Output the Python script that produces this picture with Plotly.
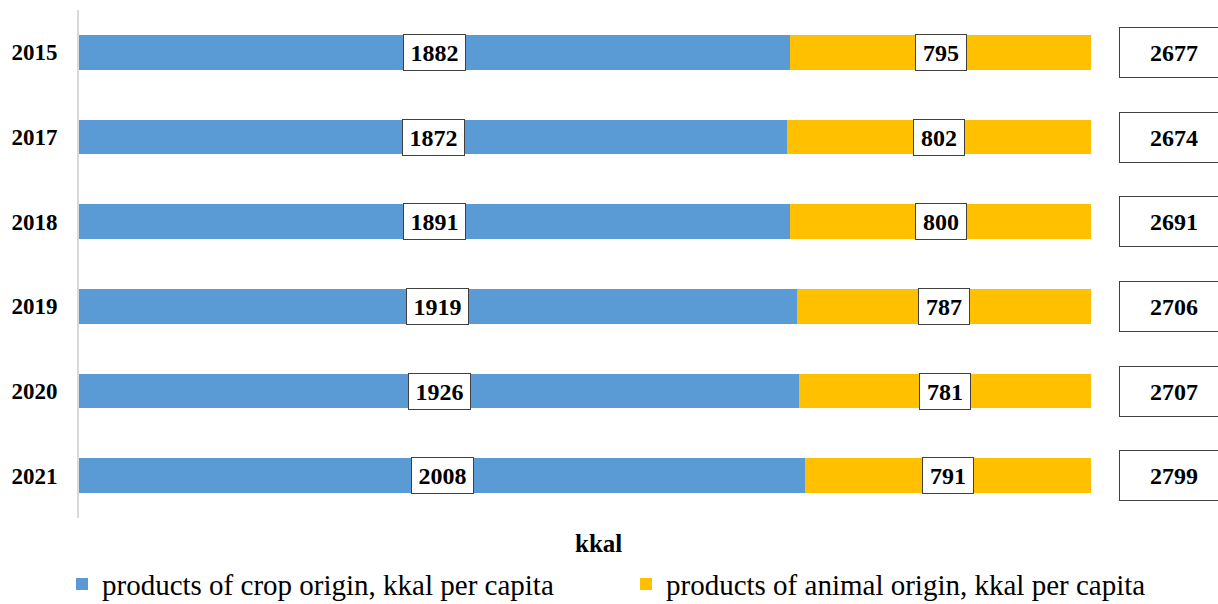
import plotly.graph_objects as go

years = ["2015", "2017", "2018", "2019", "2020", "2021"]
crop = [1882, 1872, 1891, 1919, 1926, 2008]
animal = [795, 802, 800, 787, 781, 791]
totals = [2677, 2674, 2691, 2706, 2707, 2799]

crop_name = "products of crop origin, kkal per capita"
animal_name = "products of animal origin, kkal per capita"
blue = "#5B9BD5"
orange = "#FFC000"
FONT = "Liberation Serif, Times New Roman, serif"

fig = go.Figure()
fig.add_trace(go.Bar(y=years, x=crop, orientation="h", name=crop_name, legend="legend",
                     showlegend=True, marker=dict(color=blue, line=dict(width=0))))
fig.add_trace(go.Bar(y=years, x=animal, orientation="h", name=animal_name, legend="legend2",
                     showlegend=True, marker=dict(color=orange, line=dict(width=0))))

annotations = []
for i, (c, a, t) in enumerate(zip(crop, animal, totals)):
    tot = c + a
    cp = c / tot * 100
    annotations.append(dict(x=cp / 2, y=i, xref="x", yref="y", text=f"<b>{c}</b>",
                            showarrow=False, bgcolor="white", bordercolor="#404040",
                            borderwidth=1, height=33, borderpad=1, width=59,
                            font=dict(family=FONT, size=24, color="black")))
    annotations.append(dict(x=cp + (100 - cp) / 2, y=i, xref="x", yref="y", text=f"<b>{a}</b>",
                            showarrow=False, bgcolor="white", bordercolor="#404040",
                            borderwidth=1, height=33, borderpad=1, width=48,
                            font=dict(family=FONT, size=24, color="black")))
    annotations.append(dict(x=(1174 - 79) / 1012, y=i, xref="paper", yref="y",
                            xanchor="center", text=f"<b>{t}</b>",
                            showarrow=False, bgcolor="white", bordercolor="#404040",
                            borderwidth=1, height=49, width=108, borderpad=0,
                            font=dict(family=FONT, size=24, color="black")))

annotations.append(dict(x=(598 - 79) / 1012, y=-0.02, xref="paper", yref="paper",
                        xanchor="center", text="<b>kkal</b>", showarrow=False, yanchor="top",
                        font=dict(family=FONT, size=25, color="black")))

fig.update_layout(
    width=1218, height=604, showlegend=True,
    barmode="stack", barnorm="percent", bargap=0.587,
    plot_bgcolor="white", paper_bgcolor="white",
    margin=dict(l=79, r=127, t=10, b=86, autoexpand=False),
    font=dict(family=FONT, color="black"),
    xaxis=dict(range=[0, 100], autorange=False, showgrid=False, showticklabels=False,
               zeroline=False, showline=False, automargin=False),
    yaxis=dict(type="category", categoryorder="array", categoryarray=years,
               range=[len(years) - 0.5, -0.5], autorange=False,
               automargin=False,
               showline=True, linecolor="#d9d9d9", linewidth=2,
               ticks="outside", ticklen=15, tickcolor="rgba(0,0,0,0)", showgrid=False,
               tickfont=dict(family=FONT, size=23, color="black", weight="bold")),
    legend=dict(orientation="h", x=(62 - 79) / 1012, xanchor="left", y=-0.08, yanchor="top",
                font=dict(family=FONT, size=29, color="black"), itemwidth=30,
                bgcolor="rgba(0,0,0,0)", visible=True),
    legend2=dict(orientation="h", x=(626 - 79) / 1012, xanchor="left", y=-0.08, yanchor="top",
                 font=dict(family=FONT, size=29, color="black"), itemwidth=30,
                 bgcolor="rgba(0,0,0,0)", visible=True),
    annotations=annotations,
)

fig.write_html("out.html", post_script="document.body.style.margin='0px';",
               config={"displayModeBar": False})
